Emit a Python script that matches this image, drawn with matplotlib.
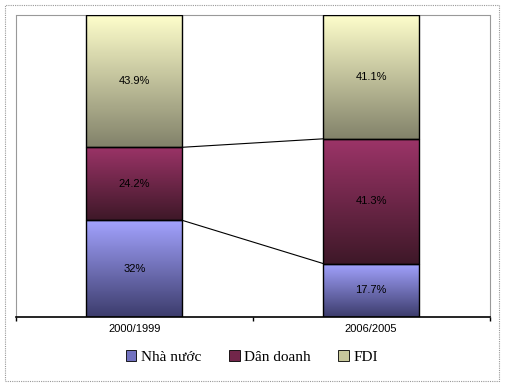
import numpy as np
import matplotlib.pyplot as plt
from matplotlib.colors import LinearSegmentedColormap
from matplotlib.patches import Rectangle, Patch

# data
categories = ['2000/1999', '2006/2005']
series = ['Nhà nước', 'Dân doanh', 'FDI']
nha_nuoc = [32.0, 17.7]
dan_doanh = [24.2, 41.3]
fdi = [43.9, 41.1]
labels = [['32%', '17.7%'], ['24.2%', '41.3%'], ['43.9%', '41.1%']]

# gradient colours, top -> bottom
grads = [('#a3a3ff', '#3c3c6c'), ('#9c3468', '#3e1828'), ('#ffffcc', '#82826a')]
mids = ['#7272c0', '#72264a', '#c9c99c']

fig = plt.figure(figsize=(5.05, 3.87), dpi=100)
fig.patches.append(Rectangle((5 / 505, 1 - 381 / 387), 494 / 505, 376 / 387,
                             transform=fig.transFigure, fill=False,
                             edgecolor='#999999', linestyle=(0, (1, 1)), lw=0.8))
ax = fig.add_axes([16 / 505, 1 - 317 / 387, 473.5 / 505, 302 / 387])

x = np.arange(len(categories))
width = 0.405
vals = [nha_nuoc, dan_doanh, fdi]
bottom = np.zeros(len(categories))
tops = []
for i, v in enumerate(vals):
    bars = ax.bar(x, v, width, bottom=bottom, facecolor='none', edgecolor='black',
                  lw=1.0, zorder=3)
    cmap = LinearSegmentedColormap.from_list('g%d' % i, [grads[i][1], grads[i][0]])
    for j, b in enumerate(bars):
        x0 = b.get_x()
        y0 = b.get_y()
        h = b.get_height()
        im = ax.imshow(np.linspace(0, 1, 256).reshape(-1, 1), cmap=cmap,
                       extent=[x0, x0 + width, y0, y0 + h], origin='lower',
                       aspect='auto', zorder=2, interpolation='bilinear')
        im.set_clip_path(b)
        ax.text(x[j], y0 + h / 2, labels[i][j], ha='center', va='center',
                fontsize=8, family='Liberation Sans', zorder=4)
    bottom = bottom + np.array(v)
    tops.append(bottom.copy())

# series lines
for t in tops[:2]:
    ax.plot([x[0] + width / 2, x[1] - width / 2], [t[0], t[1]], color='black',
            lw=0.8, zorder=3)

ax.set_xlim(-0.5, 1.5)
ax.set_ylim(0, 100)
ax.set_yticks([])
ax.set_xticks([-0.5, 0.5, 1.5], minor=False)
ax.set_xticklabels([])
ax.set_xticks(x, minor=True)
ax.set_xticklabels(categories, minor=True, fontsize=8, family='Liberation Sans')
ax.tick_params(axis='x', which='major', length=3, width=1, direction='out')
ax.tick_params(axis='x', which='minor', length=0, pad=5)
for s in ['left', 'top', 'right']:
    ax.spines[s].set_color('#999999')
    ax.spines[s].set_linestyle((0, (1, 1)))
    ax.spines[s].set_linewidth(0.8)
ax.spines['bottom'].set_linewidth(1.2)

handles = [Patch(facecolor=mids[i], edgecolor='black', lw=0.6) for i in range(3)]
fig.legend(handles, series, loc='center', bbox_to_anchor=(252 / 505, 1 - 357 / 387),
           ncol=3, frameon=False, prop={'family': 'Liberation Serif', 'size': 11},
           handlelength=0.7, handleheight=0.7, handletextpad=0.3, columnspacing=1.8)

fig.savefig('out.png', dpi=100)
